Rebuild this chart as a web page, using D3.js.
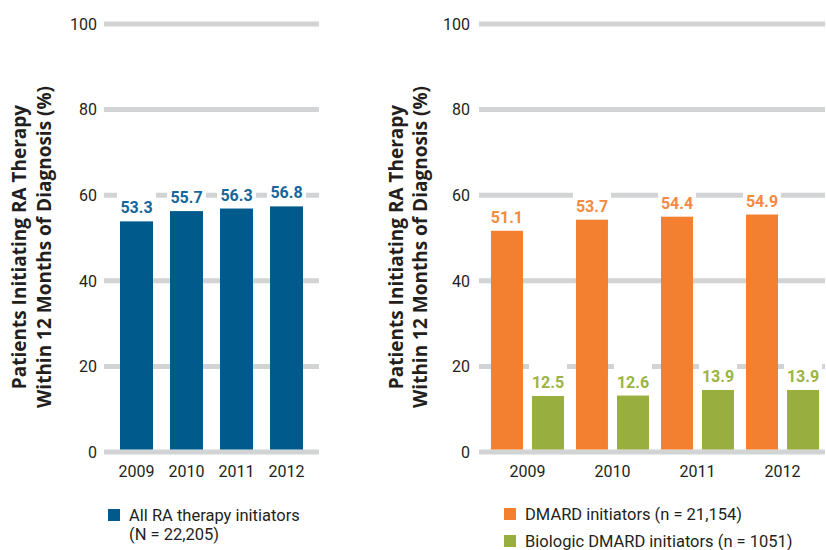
<!DOCTYPE html>
<html>
<head>
    <meta charset="utf-8">
    <title>RA therapy initiators</title>
    <script src="https://cdn.jsdelivr.net/npm/d3@7"></script>
    <style>
        body{
            margin:0;
            background:#fff;
        }
        text{
            font-family:Roboto, sans-serif;
            fill:#231f20;
        }
        .ytitle{
            font-family:"Open Sans", sans-serif;
            font-weight:700;
            font-size:19px;
        }
    </style>
</head>
<body>
<div id="chart"></div>
<script>
    var years = ["2009","2010","2011","2012"]
    var allRA = [53.3,55.7,56.3,56.8]
    var dmard = [51.1,53.7,54.4,54.9]
    var biologic = [12.5,12.6,13.9,13.9]
    var yTicks = [0,20,40,60,80,100]
    var titleLines = ["Patients Initiating RA Therapy","Within 12 Months of Diagnosis (%)"]

    var grey = "#d1d3d4"
    var blue = "#005a8c", blueText = "#17669c"
    var orange = "#f38030", orangeText = "#f58a40"
    var green = "#98ae3e", greenText = "#9bb442"

    var svg = d3.select("#chart").append("svg").attr("width",826).attr("height",550)

    var y = d3.scaleLinear().domain([0,100]).range([452,24])

    // grid + ticks + axis title for one panel
    function frame(x0, x1, tickX, titleX){
        var g = svg.append("g")
        g.selectAll(".grid").data(yTicks).enter().append("line")
            .attr("x1",x0).attr("x2",x1)
            .attr("y1",function(d){ return y(d) }).attr("y2",function(d){ return y(d) })
            .attr("stroke",grey).attr("stroke-width",5)
        g.selectAll(".tick").data(yTicks).enter().append("text")
            .attr("x",tickX).attr("y",function(d){ return y(d) })
            .attr("dy","0.36em").attr("text-anchor","end")
            .style("font-size","16px")
            .text(function(d){ return d })
        g.selectAll(".ytitle").data(titleLines).enter().append("text")
            .attr("class","ytitle")
            .attr("text-anchor","middle")
            .attr("transform",function(d,i){ return "translate(" + (titleX[i]) + ",247) rotate(-90)" })
            .text(function(d){ return d })
        return g
    }

    // white box behind label, bar, label
    function bars(g, data, xpos, bw, fill, textFill){
        g.selectAll(null).data(data).enter().append("rect")
            .attr("x",function(d,i){ return xpos(i) - 3 })
            .attr("y",function(d){ return y(d) - 2.5 - 32 })
            .attr("width",bw + 6).attr("height",32)
            .attr("fill","#fff")
        g.selectAll(null).data(data).enter().append("rect")
            .attr("x",function(d,i){ return xpos(i) })
            .attr("y",function(d){ return y(d) - 2.5 })
            .attr("width",bw)
            .attr("height",function(d){ return y(0) - y(d) })
            .attr("fill",fill)
        g.selectAll(null).data(data).enter().append("text")
            .attr("x",function(d,i){ return xpos(i) + bw/2 })
            .attr("y",function(d){ return y(d) - 2.5 - 8 })
            .attr("text-anchor","middle")
            .style("font-size","16px").style("font-weight","700")
            .style("fill",textFill)
            .text(function(d){ return d3.format(".1f")(d) })
    }

    function yearLabels(g, xc){
        g.selectAll(null).data(years).enter().append("text")
            .attr("x",function(d){ return xc(d) }).attr("y",477)
            .attr("text-anchor","middle")
            .style("font-size","16px")
            .text(function(d){ return d })
    }

    function legend(g, items, x, y0, step){
        items.forEach(function(it,i){
            g.append("rect").attr("x",x).attr("y",y0 + i*step).attr("width",12).attr("height",12).attr("fill",it.color)
            it.lines.forEach(function(l,j){
                g.append("text").attr("x",x + 21).attr("y",y0 + i*step + 12 + j*19)
                    .style("font-size","16.5px").text(l)
            })
        })
    }

    // left panel
    var left = frame(104, 319, 97, [26, 51])
    var xl = d3.scaleBand().domain(years).range([111.5, 311.5]).paddingInner(0.34).paddingOuter(0.17)
    bars(left, allRA, function(i){ return xl(years[i]) }, xl.bandwidth(), blue, blueText)
    yearLabels(left, function(d){ return xl(d) + xl.bandwidth()/2 })
    legend(left, [{color:blue, lines:["All RA therapy initiators","(N = 22,205)"]}], 108, 509, 0)

    // right panel
    var right = frame(479, 825, 470, [403, 427])
    var xr = d3.scaleBand().domain(years).range([485, 825]).paddingInner(0.141).paddingOuter(0.07)
    var xs = d3.scaleBand().domain(["dmard","biologic"]).range([0, xr.bandwidth()]).paddingInner(0.22)
    bars(right, dmard, function(i){ return xr(years[i]) + xs("dmard") }, xs.bandwidth(), orange, orangeText)
    bars(right, biologic, function(i){ return xr(years[i]) + xs("biologic") }, xs.bandwidth(), green, greenText)
    yearLabels(right, function(d){ return xr(d) + xr.bandwidth()/2 })
    legend(right, [
        {color:orange, lines:["DMARD initiators (n = 21,154)"]},
        {color:green, lines:["Biologic DMARD initiators (n = 1051)"]}
    ], 504, 508, 27)
</script>
</body>
</html>
